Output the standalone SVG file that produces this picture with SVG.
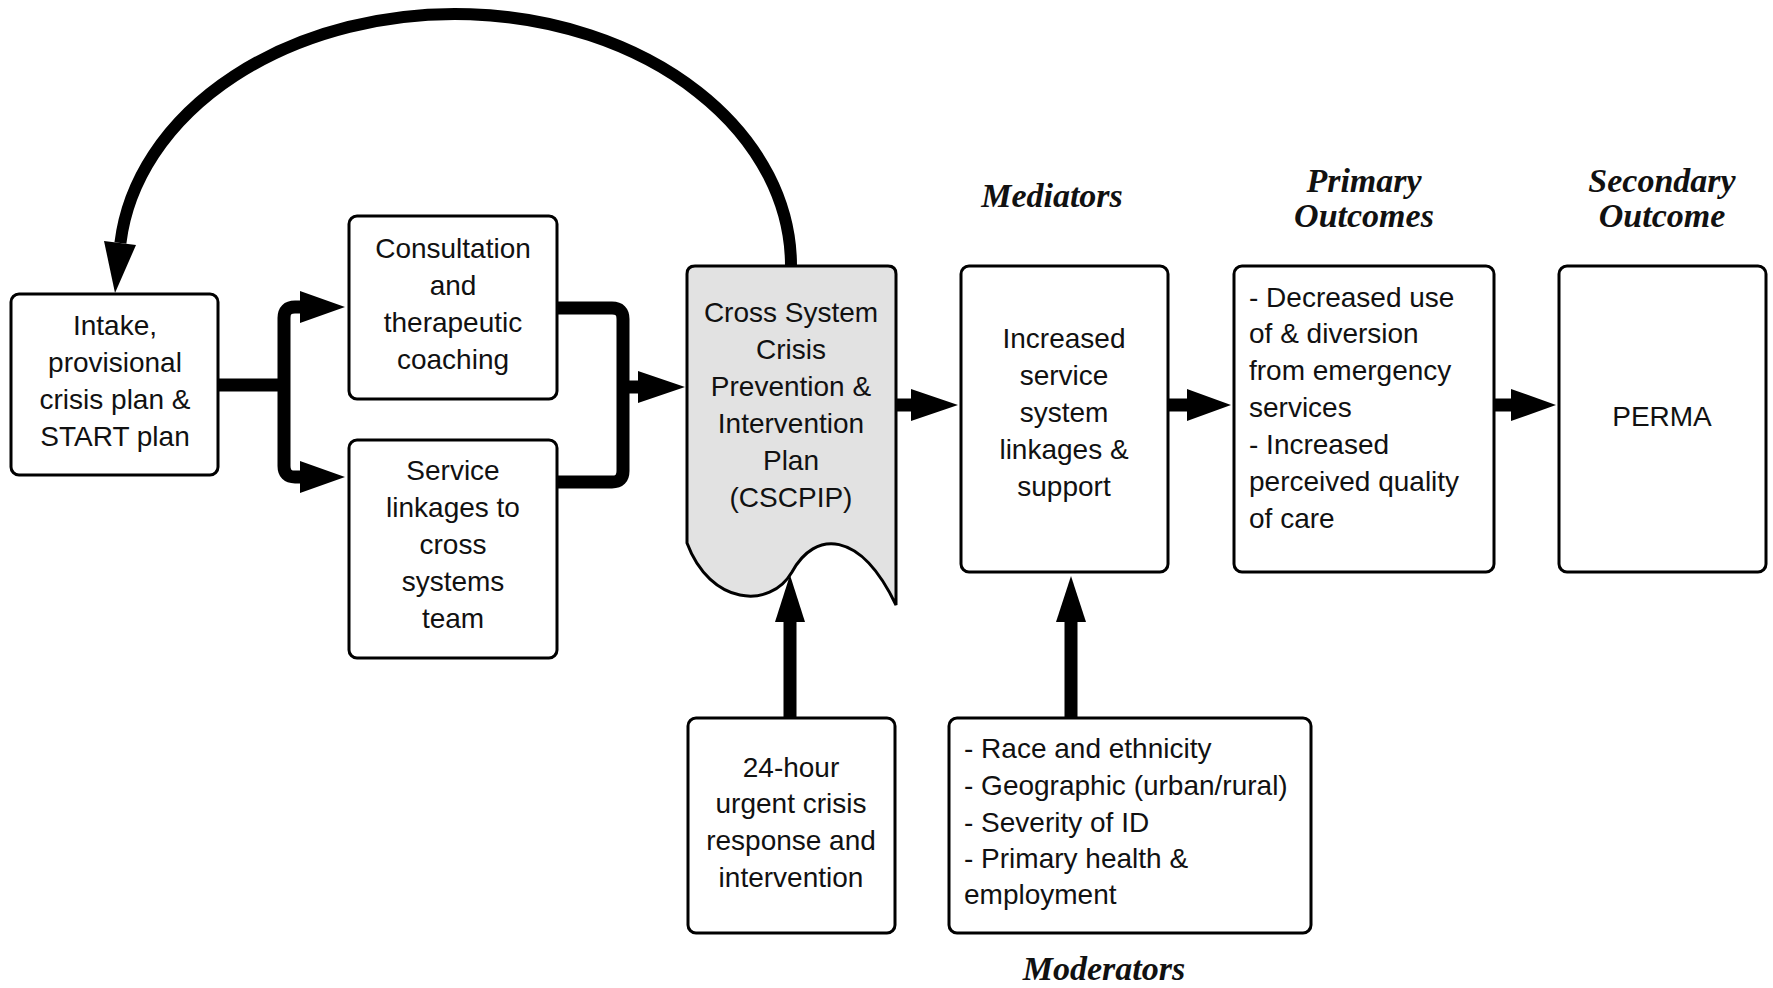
<svg xmlns="http://www.w3.org/2000/svg" width="1773" height="988" viewBox="0 0 1773 988">
<style>
.box{fill:#fff;stroke:#000;stroke-width:3}
.doc{fill:#e2e2e2;stroke:#000;stroke-width:3}
.t{font-family:"Liberation Sans",Arial,sans-serif;font-size:28px;fill:#111}
.c{text-anchor:middle}
.h{font-family:"Liberation Serif","Times New Roman",serif;font-size:34px;font-style:italic;font-weight:bold;fill:#111;text-anchor:middle}
.ln{fill:none;stroke:#000;stroke-width:13}
.loop{fill:none;stroke:#000;stroke-width:12}
.ah{fill:#000}
</style>
<rect width="1773" height="988" fill="#fff"/>
<g id="connectors">
  <path class="loop" d="M 791 266 A 336 252 0 0 0 120.4 243"/>
  <polygon class="ah" points="104,241 136,245 115,293"/>
  <path class="ln" d="M 219 385 H 284"/>
  <path class="ln" d="M 304 307 H 295 Q 284 307 284 318 V 466 Q 284 477 295 477 H 304"/>
  <polygon class="ah" points="300,291 345,307 300,323"/>
  <polygon class="ah" points="300,461 345,477 300,493"/>
  <path class="ln" d="M 557 308 H 612 Q 623 308 623 319 V 471 Q 623 482 612 482 H 557"/>
  <path class="ln" d="M 623 387 H 642"/>
  <polygon class="ah" points="638,371 685,387 638,403"/>
  <path class="ln" d="M 896 405 H 915"/>
  <polygon class="ah" points="911,389 958,405 911,421"/>
  <path class="ln" d="M 1168 405 H 1190"/>
  <polygon class="ah" points="1187,389 1231,405 1187,421"/>
  <path class="ln" d="M 1494 405 H 1515"/>
  <polygon class="ah" points="1511,389 1556,405 1511,421"/>
  <path class="ln" d="M 790 718 V 618"/>
  <polygon class="ah" points="775,622 790,575 805,622"/>
  <path class="ln" d="M 1071 718 V 618"/>
  <polygon class="ah" points="1056,622 1071,576 1086,622"/>
</g>
<g id="intake">
  <rect class="box" x="11" y="294" width="207" height="181" rx="8"/>
  <text class="t c" x="115" y="335">Intake,</text>
  <text class="t c" x="115" y="372">provisional</text>
  <text class="t c" x="115" y="409">crisis plan &amp;</text>
  <text class="t c" x="115" y="446">START plan</text>
</g>
<g id="consultation">
  <rect class="box" x="349" y="216" width="208" height="183" rx="8"/>
  <text class="t c" x="453" y="258">Consultation</text>
  <text class="t c" x="453" y="295">and</text>
  <text class="t c" x="453" y="332">therapeutic</text>
  <text class="t c" x="453" y="369">coaching</text>
</g>
<g id="service">
  <rect class="box" x="349" y="440" width="208" height="218" rx="8"/>
  <text class="t c" x="453" y="480">Service</text>
  <text class="t c" x="453" y="517">linkages to</text>
  <text class="t c" x="453" y="554">cross</text>
  <text class="t c" x="453" y="591">systems</text>
  <text class="t c" x="453" y="628">team</text>
</g>
<g id="cscpip">
  <path class="doc" d="M 695 266 H 888 Q 896 266 896 274 V 605 C 860 530 815 530 792 572 C 770 610 710 605 687 543 V 274 Q 687 266 695 266 Z"/>
  <text class="t c" x="791" y="322">Cross System</text>
  <text class="t c" x="791" y="359">Crisis</text>
  <text class="t c" x="791" y="396">Prevention &amp;</text>
  <text class="t c" x="791" y="433">Intervention</text>
  <text class="t c" x="791" y="470">Plan</text>
  <text class="t c" x="791" y="507">(CSCPIP)</text>
</g>
<g id="mediators">
  <text class="h" x="1052" y="207">Mediators</text>
  <rect class="box" x="961" y="266" width="207" height="306" rx="8"/>
  <text class="t c" x="1064" y="348">Increased</text>
  <text class="t c" x="1064" y="385">service</text>
  <text class="t c" x="1064" y="422">system</text>
  <text class="t c" x="1064" y="459">linkages &amp;</text>
  <text class="t c" x="1064" y="496">support</text>
</g>
<g id="primary">
  <text class="h" x="1364" y="192">Primary</text>
  <text class="h" x="1364" y="227">Outcomes</text>
  <rect class="box" x="1234" y="266" width="260" height="306" rx="8"/>
  <text class="t" x="1249" y="307">- Decreased use</text>
  <text class="t" x="1249" y="343">of &amp; diversion</text>
  <text class="t" x="1249" y="380">from emergency</text>
  <text class="t" x="1249" y="417">services</text>
  <text class="t" x="1249" y="454">- Increased</text>
  <text class="t" x="1249" y="491">perceived quality</text>
  <text class="t" x="1249" y="528">of care</text>
</g>
<g id="secondary">
  <text class="h" x="1662" y="192">Secondary</text>
  <text class="h" x="1662" y="227">Outcome</text>
  <rect class="box" x="1559" y="266" width="207" height="306" rx="8"/>
  <text class="t c" x="1662" y="426">PERMA</text>
</g>
<g id="urgent">
  <rect class="box" x="688" y="718" width="207" height="215" rx="8"/>
  <text class="t c" x="791" y="777">24-hour</text>
  <text class="t c" x="791" y="813">urgent crisis</text>
  <text class="t c" x="791" y="850">response and</text>
  <text class="t c" x="791" y="887">intervention</text>
</g>
<g id="moderators">
  <rect class="box" x="949" y="718" width="362" height="215" rx="8"/>
  <text class="t" x="964" y="758">- Race and ethnicity</text>
  <text class="t" x="964" y="795">- Geographic (urban/rural)</text>
  <text class="t" x="964" y="832">- Severity of ID</text>
  <text class="t" x="964" y="868">- Primary health &amp;</text>
  <text class="t" x="964" y="904">employment</text>
  <text class="h" x="1104" y="980">Moderators</text>
</g>
</svg>
